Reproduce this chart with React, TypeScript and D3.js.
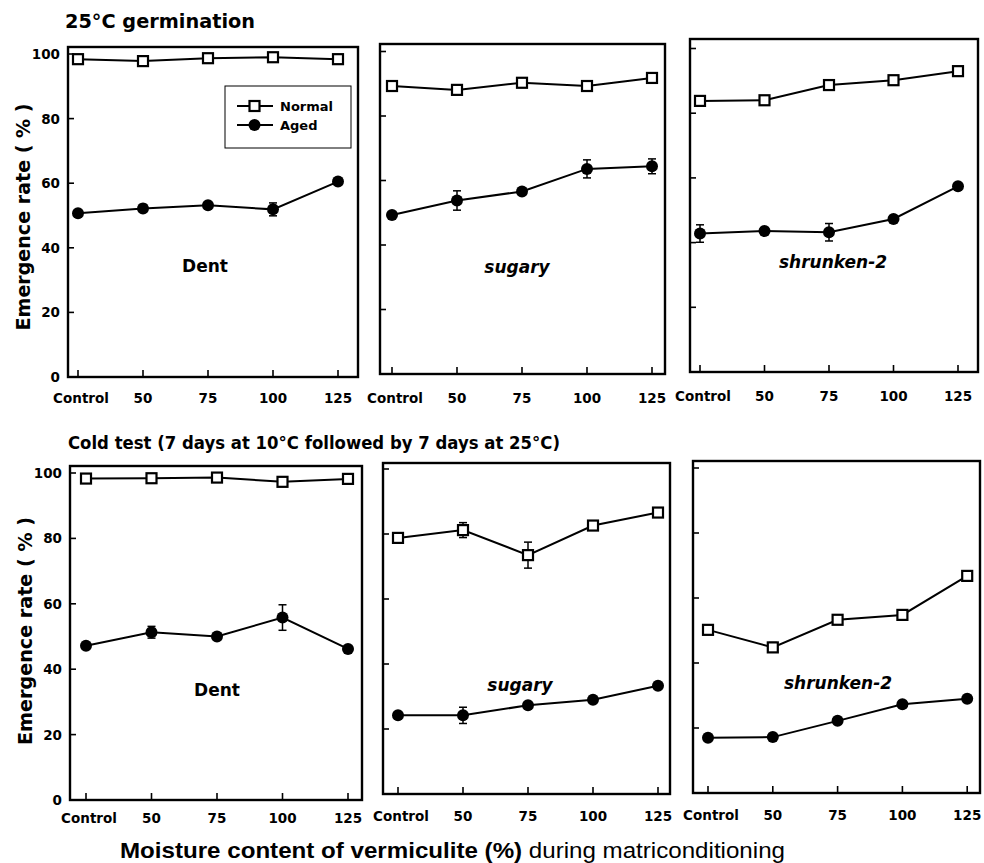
import React from "react";
import * as d3 from "d3";

// x categories (moisture content of vermiculite, %)
const categories = ["Control", "50", "75", "100", "125"];
const yTicks = [0, 20, 40, 60, 80, 100];

// 25°C germination
const germNormalDent = [98.4, 97.8, 98.7, 99.0, 98.4];
const germNormalDentErr = [0.5, 0.5, 0.5, 0.5, 0.5];
const germAgedDent = [50.7, 52.2, 53.2, 51.9, 60.5];
const germAgedDentErr = [1.0, 1.2, 0.8, 2.0, 0.8];

const germNormalSugary = [89.3, 88.1, 90.3, 89.3, 91.8];
const germNormalSugaryErr = [0.5, 0.5, 0.6, 1.0, 0.5];
const germAgedSugary = [49.3, 53.8, 56.6, 63.6, 64.4];
const germAgedSugaryErr = [0.5, 3.0, 1.0, 2.8, 2.3];

const germNormalShrunken = [83.8, 84.0, 88.7, 90.2, 93.0];
const germNormalShrunkenErr = [0.5, 0.6, 0.6, 0.6, 0.5];
const germAgedShrunken = [42.8, 43.6, 43.2, 47.3, 57.4];
const germAgedShrunkenErr = [2.7, 0.8, 2.7, 0.8, 0.8];

// Cold test
const coldNormalDent = [98.3, 98.4, 98.6, 97.3, 98.2];
const coldNormalDentErr = [0.5, 0.5, 0.5, 0.6, 0.5];
const coldAgedDent = [47.2, 51.3, 50.0, 55.8, 46.2];
const coldAgedDentErr = [0.8, 1.8, 0.8, 3.9, 0.5];

const coldNormalSugary = [78.8, 81.2, 73.5, 82.6, 86.6];
const coldNormalSugaryErr = [1.2, 2.3, 4.0, 1.2, 0.8];
const coldAgedSugary = [24.2, 24.2, 27.3, 29.0, 33.3];
const coldAgedSugaryErr = [0.5, 2.5, 0.5, 0.8, 0.8];

const coldNormalShrunken = [50.2, 44.8, 53.3, 54.8, 66.8];
const coldNormalShrunkenErr = [1.2, 1.5, 0.6, 1.5, 0.6];
const coldAgedShrunken = [17.0, 17.2, 22.2, 27.3, 29.0];
const coldAgedShrunkenErr = [0.5, 0.5, 0.5, 0.6, 0.5];

const FONT = "'DejaVu Sans', 'Liberation Sans', Arial, sans-serif";

// panel frames, scanned figure is slightly skewed so each panel has its own box
const panels = [
  { x0: 68, x1: 358, top: 47, zero: 377, full: 54, first: 78, step: 65, label: "Dent", italic: false, lx: 205, ly: 272, axisLabels: true, tickY: 403,
    normal: germNormalDent, normalErr: germNormalDentErr, aged: germAgedDent, agedErr: germAgedDentErr },
  { x0: 380, x1: 665, top: 44, zero: 374, full: 51.5, first: 392, step: 65, label: "sugary", italic: true, lx: 517, ly: 273, axisLabels: false, tickY: 403,
    normal: germNormalSugary, normalErr: germNormalSugaryErr, aged: germAgedSugary, agedErr: germAgedSugaryErr },
  { x0: 690, x1: 978, top: 39, zero: 372, full: 48.5, first: 700, step: 64.5, label: "shrunken-2", italic: true, lx: 833, ly: 268, axisLabels: false, tickY: 401,
    normal: germNormalShrunken, normalErr: germNormalShrunkenErr, aged: germAgedShrunken, agedErr: germAgedShrunkenErr },
  { x0: 70, x1: 362, top: 466, zero: 800, full: 473, first: 86, step: 65.5, label: "Dent", italic: false, lx: 217, ly: 696, axisLabels: true, tickY: 823,
    normal: coldNormalDent, normalErr: coldNormalDentErr, aged: coldAgedDent, agedErr: coldAgedDentErr },
  { x0: 383, x1: 670, top: 463, zero: 794, full: 469, first: 398, step: 65, label: "sugary", italic: true, lx: 520, ly: 691, axisLabels: false, tickY: 821,
    normal: coldNormalSugary, normalErr: coldNormalSugaryErr, aged: coldAgedSugary, agedErr: coldAgedSugaryErr },
  { x0: 693, x1: 980, top: 461, zero: 793, full: 468, first: 708, step: 64.8, label: "shrunken-2", italic: true, lx: 838, ly: 689, axisLabels: false, tickY: 820,
    normal: coldNormalShrunken, normalErr: coldNormalShrunkenErr, aged: coldAgedShrunken, agedErr: coldAgedShrunkenErr },
];

function Series({ values, errs, x, y, open }) {
  const line = d3.line<number>().x((_, i) => x(categories[i])).y((v) => y(v));
  return (
    <g>
      <path d={line(values)} fill="none" stroke="#000" strokeWidth={2} />
      {values.map((v, i) => {
        const cx = x(categories[i]);
        const e = errs[i];
        return (
          <g key={i}>
            {e > 0.9 && (
              <g stroke="#000" strokeWidth={1.5}>
                <line x1={cx} x2={cx} y1={y(v - e)} y2={y(v + e)} />
                <line x1={cx - 4} x2={cx + 4} y1={y(v - e)} y2={y(v - e)} />
                <line x1={cx - 4} x2={cx + 4} y1={y(v + e)} y2={y(v + e)} />
              </g>
            )}
            {open ? (
              <rect x={cx - 5} y={y(v) - 5} width={10} height={10} fill="#fff" stroke="#000" strokeWidth={2.2} />
            ) : (
              <circle cx={cx} cy={y(v)} r={6} fill="#000" />
            )}
          </g>
        );
      })}
    </g>
  );
}

function Panel({ p }) {
  const x = d3.scalePoint<string>().domain(categories).range([p.first, p.first + p.step * 4]);
  const y = d3.scaleLinear().domain([0, 100]).range([p.zero, p.full]);
  return (
    <g>
      <rect x={p.x0} y={p.top} width={p.x1 - p.x0} height={p.zero - p.top} fill="none" stroke="#000" strokeWidth={2.4} />
      {yTicks.map((t) => (
        <g key={t}>
          <line x1={p.x0} x2={p.x0 + 6} y1={y(t)} y2={y(t)} stroke="#000" strokeWidth={1.6} />
          {p.axisLabels && (
            <text x={p.x0 - 8} y={y(t) + 5} textAnchor="end" fontSize={13.5} fontWeight="bold" fontFamily={FONT}>
              {t}
            </text>
          )}
        </g>
      ))}
      {categories.map((c) => (
        <g key={c}>
          <line x1={x(c)} x2={x(c)} y1={p.zero} y2={p.zero - 7} stroke="#000" strokeWidth={1.6} />
          <text x={x(c) + (c === "Control" ? 3 : 0)} y={p.tickY} textAnchor="middle" fontSize={13.5} fontWeight="bold" fontFamily={FONT}>
            {c}
          </text>
        </g>
      ))}
      <Series values={p.normal} errs={p.normalErr} x={x} y={y} open />
      <Series values={p.aged} errs={p.agedErr} x={x} y={y} open={false} />
      <text x={p.lx} y={p.ly} textAnchor="middle" fontSize={17} fontWeight="bold" fontStyle={p.italic ? "italic" : "normal"} fontFamily={FONT}>
        {p.label}
      </text>
    </g>
  );
}

export default function App() {
  return (
    <svg width={984} height={863} style={{ position: "absolute", left: 0, top: 0, background: "#fff" }}>
      <rect width={984} height={863} fill="#fff" />
      <text x={65} y={28} fontSize={19} fontWeight="bold" fontFamily={FONT} textLength={190} lengthAdjust="spacingAndGlyphs">
        25°C germination
      </text>
      <text x={68} y={449} fontSize={18} fontWeight="bold" fontFamily={FONT} textLength={492} lengthAdjust="spacingAndGlyphs">
        Cold test (7 days at 10°C followed by 7 days at 25°C)
      </text>
      {panels.map((p, i) => (
        <Panel key={i} p={p} />
      ))}
      {/* legend */}
      <g>
        <rect x={225} y={86} width={126} height={62} fill="#fff" stroke="#000" strokeWidth={1} />
        <line x1={237} x2={273} y1={106} y2={106} stroke="#000" strokeWidth={2} />
        <rect x={249.5} y={101} width={10} height={10} fill="#fff" stroke="#000" strokeWidth={2.2} />
        <text x={280} y={111} fontSize={13} fontWeight="bold" fontFamily={FONT}>Normal</text>
        <line x1={237} x2={273} y1={125} y2={125} stroke="#000" strokeWidth={2} />
        <circle cx={254.5} cy={125} r={6} fill="#000" />
        <text x={280} y={130} fontSize={13} fontWeight="bold" fontFamily={FONT}>Aged</text>
      </g>
      {/* y axis titles */}
      <text transform="translate(30,217) rotate(-90)" textAnchor="middle" fontSize={20} fontWeight="bold" fontFamily={FONT} textLength={227} lengthAdjust="spacingAndGlyphs">
        Emergence rate ( % )
      </text>
      <text transform="translate(32,631) rotate(-90)" textAnchor="middle" fontSize={20} fontWeight="bold" fontFamily={FONT} textLength={228} lengthAdjust="spacingAndGlyphs">
        Emergence rate ( % )
      </text>
      <text x={120} y={858} fontSize={22} fontFamily="'Liberation Sans Narrow', 'Liberation Sans', sans-serif" fontStretch="condensed" textLength={665} lengthAdjust="spacingAndGlyphs">
        <tspan fontWeight="bold">Moisture content of vermiculite (%)</tspan>
        <tspan> during matriconditioning</tspan>
      </text>
    </svg>
  );
}
